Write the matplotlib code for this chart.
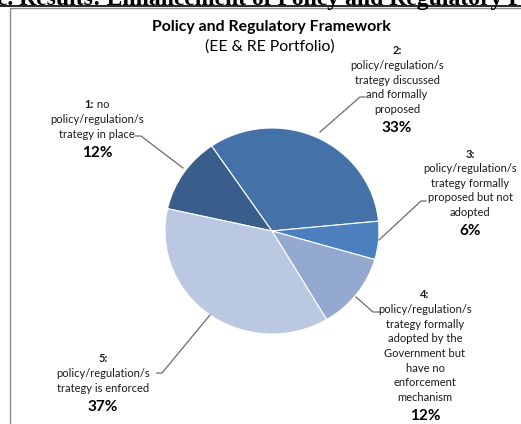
import matplotlib
matplotlib.use("Agg")
import matplotlib.pyplot as plt

W, H = 521, 424
FONT = "Lato"

# ---- data ----
categories = ["1", "2", "3", "4", "5"]
values = [12, 33, 6, 12, 37]
pct_labels = ["12%", "33%", "6%", "12%", "37%"]
label_lines = [
    ["no", "policy/regulation/s", "trategy in place"],
    ["", "policy/regulation/s", "trategy discussed", "and formally", "proposed"],
    ["", "policy/regulation/s", "trategy formally", "proposed but not", "adopted"],
    ["", "policy/regulation/s", "trategy formally", "adopted by the", "Government but",
     "have no", "enforcement", "mechanism"],
    ["", "policy/regulation/s", "trategy is enforced"],
]
colors = ["#3A5E8C", "#4472A8", "#4C7FBE", "#93A9CF", "#BBC8E1"]
title = "Policy and Regulatory Framework"
subtitle = "(EE & RE Portfolio)"
header = "c. Results: Enhancement of Policy and Regulatory Framework"

fig = plt.figure(figsize=(W / 100, H / 100), dpi=100)
fig.patch.set_facecolor("white")

# pie axes (pixel geometry)
cx, cy, rx, ry = 272, 231, 107, 103
axp = fig.add_axes([(cx - rx) / W, (H - cy - ry) / H, 2 * rx / W, 2 * ry / H])
axp.pie(values, colors=colors, startangle=167.5, counterclock=False,
        wedgeprops=dict(edgecolor="white", linewidth=0.8))
axp.set_aspect("auto")
axp.set_xlim(-1, 1)
axp.set_ylim(-1, 1)
axp.axis("off")

# overlay axes in pixel coordinates
ax = fig.add_axes([0, 0, 1, 1], facecolor="none")
ax.set_xlim(0, W)
ax.set_ylim(H, 0)
ax.axis("off")

# border box (partially outside)
ax.plot([10, 10, 530], [430, 8, 8], color="#8c8c8c", lw=1.0, clip_on=False)

# cropped header
ax.text(-3, 4.5, header, fontfamily="Liberation Serif", fontweight="bold",
        fontsize=17, va="baseline", ha="left", color="black")
ax.plot([0, W], [6.0, 6.0], color="black", lw=1.2)

ax.text(271, 27, title, fontfamily=FONT, fontweight="bold", fontsize=11.4,
        ha="center", va="center", color="black")
ax.text(270, 47, subtitle, fontfamily=FONT, fontsize=11.3,
        ha="center", va="center", color="black")

# label layout
label_x = [97, 397, 470, 425, 103]
label_y0 = [105, 51, 154, 295, 359]
step = 14.6
txtc = "#1a1a1a"
fig.canvas.draw()
renderer = fig.canvas.get_renderer()
for i in range(5):
    lines = label_lines[i]
    x, y0 = label_x[i], label_y0[i]
    head = categories[i] + ":"
    if lines[0]:
        tb = ax.text(0, y0, head, fontfamily=FONT, fontweight="bold", fontsize=8,
                     ha="left", va="center", color=txtc)
        tn = ax.text(0, y0, " " + lines[0], fontfamily=FONT, fontsize=8,
                     ha="left", va="center", color=txtc)
        wb = tb.get_window_extent(renderer).width
        wn = tn.get_window_extent(renderer).width
        start = x - (wb + wn) / 2
        tb.set_x(start)
        tn.set_x(start + wb)
    else:
        ax.text(x, y0, head, fontfamily=FONT, fontweight="bold", fontsize=8,
                ha="center", va="center", color=txtc)
    for j, ln in enumerate(lines[1:], start=1):
        ax.text(x, y0 + j * step, ln, fontfamily=FONT, fontsize=8,
                ha="center", va="center", color=txtc)
    ylast = y0 + (len(lines) - 1) * step
    ax.text(x, ylast + 18.5, pct_labels[i], fontfamily=FONT, fontweight="bold",
            fontsize=11, ha="center", va="center", color="black")

# leader lines
leaders = [
    [(183, 168), (141, 136), (135, 136)],
    [(320, 132), (360, 97), (365, 97)],
    [(379, 240), (421, 201), (426, 201)],
    [(356, 297), (373, 312), (380, 312)],
    [(210, 315), (162, 373), (157, 373)],
]
for pts in leaders:
    xs = [p[0] for p in pts]
    ys = [p[1] for p in pts]
    ax.plot(xs, ys, color="#6b6b6b", lw=0.9)

fig.savefig("out.png", dpi=100)
